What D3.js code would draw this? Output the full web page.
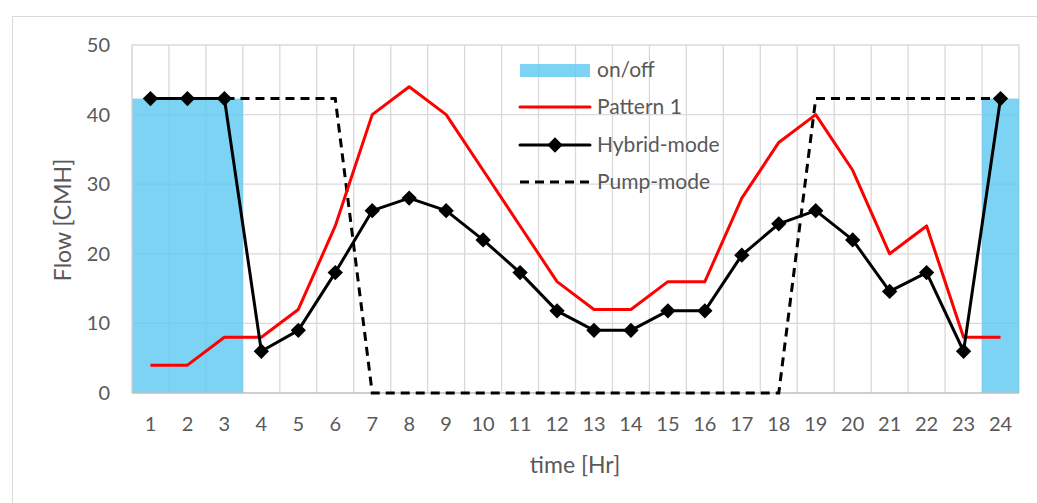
<!DOCTYPE html>
<html><head><meta charset="utf-8">
<script src="https://cdn.jsdelivr.net/npm/d3@7/dist/d3.min.js"></script>
<style>body{margin:0;background:#fff;}svg{display:block;}</style>
</head><body>
<svg id="c" width="1037" height="503"></svg>
<script>
const hours = ["1","2","3","4","5","6","7","8","9","10","11","12","13","14","15","16","17","18","19","20","21","22","23","24"];
const onOff = [42.3,42.3,42.3,0,0,0,0,0,0,0,0,0,0,0,0,0,0,0,0,0,0,0,0,42.3];
const pattern1 = [4,4,8,8,12,24,40,44,40,32,24,16,12,12,16,16,28,36,40,32,20,24,8,8];
const hybrid = [42.3,42.3,42.3,6,9,17.3,26.2,28,26.2,22,17.3,11.8,9,9,11.8,11.8,19.8,24.3,26.2,22,14.6,17.3,6,42.3];
const pump = [42.3,42.3,42.3,42.3,42.3,42.3,0,0,0,0,0,0,0,0,0,0,0,0,42.3,42.3,42.3,42.3,42.3,42.3];
const yTicks = [0,10,20,30,40,50];
const legendNames = ["on/off","Pattern 1","Hybrid-mode","Pump-mode"];

const svg = d3.select("#c");
const font = "Lato, 'Open Sans', sans-serif";
const L = 132, R = 1019, T = 45, B = 393;
const x = d3.scaleBand().domain(hours).range([L, R]).padding(0);
const y = d3.scaleLinear().domain([0, 50]).range([B, T]);
const cx = d => x(d) + x.bandwidth() / 2;

// outer chart border
svg.append("rect").attr("x", 12.5).attr("y", 16.5).attr("width", 1040).attr("height", 500)
  .attr("fill", "none").attr("stroke", "#d9d9d9").attr("stroke-width", 1);

// gridlines
const g = svg.append("g");
g.selectAll(".hg").data(yTicks.filter(v => v > 0)).join("line")
  .attr("x1", L).attr("x2", R).attr("y1", d => y(d)).attr("y2", d => y(d))
  .attr("stroke", "#d9d9d9").attr("stroke-width", 1.3);
g.selectAll(".vg").data(hours.slice(1).concat(["end"])).join("line")
  .attr("x1", d => d === "end" ? R : x(d)).attr("x2", d => d === "end" ? R : x(d))
  .attr("y1", T).attr("y2", B)
  .attr("stroke", "#d9d9d9").attr("stroke-width", 1.3);

// bars
svg.append("g").selectAll("rect").data(hours.map((h, i) => ({h, v: onOff[i]})).filter(d => d.v > 0)).join("rect")
  .attr("x", d => x(d.h)).attr("width", x.bandwidth())
  .attr("y", d => y(d.v)).attr("height", d => B - y(d.v))
  .attr("fill", "#5bc8f0").attr("fill-opacity", 0.8);

// axes lines
svg.append("line").attr("x1", L).attr("x2", L).attr("y1", T).attr("y2", B).attr("stroke", "#d0d0d0").attr("stroke-width", 1.3);
svg.append("line").attr("x1", L).attr("x2", R).attr("y1", B).attr("y2", B).attr("stroke", "#bfbfbf").attr("stroke-width", 1.5);

// tick labels
svg.append("g").selectAll("text").data(yTicks).join("text")
  .attr("x", 110).attr("y", d => y(d)).attr("dy", "0.35em").attr("text-anchor", "end")
  .attr("font-family", font).attr("font-size", 20).attr("fill", "#595959").text(d => d);
svg.append("g").selectAll("text").data(hours).join("text")
  .attr("x", d => cx(d)).attr("y", 424).attr("dy", "0.35em").attr("text-anchor", "middle")
  .attr("font-family", font).attr("font-size", 20).attr("fill", "#595959").text(d => d);

// axis titles
svg.append("text").attr("transform", "translate(63,220) rotate(-90)").attr("text-anchor", "middle").attr("dy", "0.35em")
  .attr("font-family", font).attr("font-size", 23).attr("fill", "#595959").text("Flow [CMH]");
svg.append("text").attr("x", 575).attr("y", 465).attr("text-anchor", "middle").attr("dy", "0.35em")
  .attr("font-family", font).attr("font-size", 23).attr("fill", "#595959").text("time [Hr]");

const line = d3.line().x((d, i) => cx(hours[i])).y(d => y(d));

// pump-mode dashed
svg.append("path").datum(pump).attr("d", line).attr("fill", "none")
  .attr("stroke", "#000").attr("stroke-width", 3).attr("stroke-dasharray", "9,6");
// pattern 1
svg.append("path").datum(pattern1).attr("d", line).attr("fill", "none")
  .attr("stroke", "#ff0000").attr("stroke-width", 3).attr("stroke-linejoin", "round");
// hybrid
svg.append("path").datum(hybrid).attr("d", line).attr("fill", "none")
  .attr("stroke", "#000").attr("stroke-width", 3).attr("stroke-linejoin", "round");
const diamond = d3.symbol().type(d3.symbolDiamond2).size(150);
svg.append("g").selectAll("path").data(hybrid).join("path")
  .attr("transform", (d, i) => `translate(${cx(hours[i])},${y(d)})`)
  .attr("d", diamond).attr("fill", "#000");

// legend
const lg = svg.append("g");
const ly = [70, 107, 145, 182];
const lx1 = 520, lx2 = 590;
lg.append("rect").attr("x", lx1).attr("y", ly[0] - 6).attr("width", lx2 - lx1).attr("height", 13)
  .attr("fill", "#5bc8f0").attr("fill-opacity", 0.8);
lg.append("line").attr("x1", lx1).attr("x2", lx2).attr("y1", ly[1]).attr("y2", ly[1])
  .attr("stroke", "#ff0000").attr("stroke-width", 3).attr("stroke-linecap", "round");
lg.append("line").attr("x1", lx1).attr("x2", lx2).attr("y1", ly[2]).attr("y2", ly[2])
  .attr("stroke", "#000").attr("stroke-width", 3).attr("stroke-linecap", "round");
lg.append("path").attr("transform", `translate(${(lx1 + lx2) / 2},${ly[2]})`).attr("d", diamond).attr("fill", "#000");
lg.append("line").attr("x1", lx1).attr("x2", lx2).attr("y1", ly[3]).attr("y2", ly[3])
  .attr("stroke", "#000").attr("stroke-width", 3).attr("stroke-dasharray", "9,6");
lg.selectAll("text").data(legendNames).join("text")
  .attr("x", 597).attr("y", (d, i) => ly[i]).attr("dy", "0.35em")
  .attr("font-family", font).attr("font-size", 21).attr("fill", "#595959").text(d => d);
</script>
</body></html>
